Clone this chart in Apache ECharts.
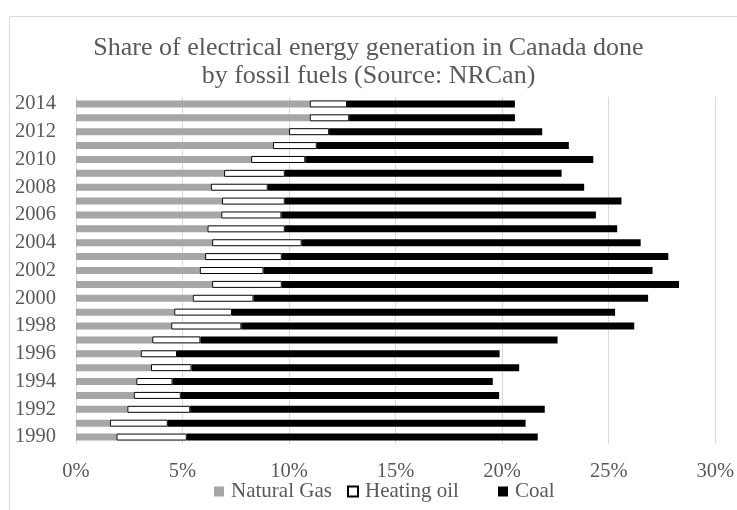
<!DOCTYPE html>
<html>
<head>
<meta charset="utf-8">
<script src="https://cdn.jsdelivr.net/npm/echarts@6/dist/echarts.min.js"></script>
<style>
html,body{margin:0;padding:0;background:#fff;}
#chart{width:737px;height:510px;}
</style>
</head>
<body>
<div id="chart"></div>
<script>
const years = ['1990','1991','1992','1993','1994','1995','1996','1997','1998','1999','2000','2001','2002','2003','2004','2005','2006','2007','2008','2009','2010','2011','2012','2013','2014'];
const naturalGas = [1.9,1.59,2.41,2.71,2.83,3.52,3.04,3.58,4.47,4.61,5.48,6.39,5.81,6.06,6.39,6.17,6.82,6.85,6.33,6.95,8.22,9.24,10.0,10.97,10.97];
const heatingOil = [3.3,2.72,2.95,2.21,1.7,1.9,1.7,2.26,3.29,2.71,2.85,3.27,2.99,3.6,4.2,3.63,2.82,2.95,2.67,2.85,2.54,2.06,1.88,1.85,1.75];
const coal = [16.47,16.79,16.64,14.94,15.03,15.38,15.14,16.76,18.44,17.98,18.52,18.64,18.26,18.14,15.91,15.6,14.76,15.8,14.85,12.99,13.52,11.83,10.0,7.78,7.88];
const seriesNames = ['Natural Gas', 'Heating oil', 'Coal'];
const titleText = 'Share of electrical energy generation in Canada done\nby fossil fuels (Source: NRCan)';

const font = 'Liberation Serif';
const textColor = '#595959';
const legendLefts = [214, 347, 498];
const chart = echarts.init(document.getElementById('chart'));
chart.setOption({
  animation: false,
  backgroundColor: '#fff',
  graphic: [{
    type: 'rect', left: 7, top: 14, shape: {width: 740, height: 510},
    style: {fill: 'none', stroke: '#d9d9d9', lineWidth: 1}, z: -1
  }],
  title: {
    text: titleText, left: 'center', top: 29,
    textStyle: {fontFamily: font, fontSize: 26, fontWeight: 'normal', color: textColor, lineHeight: 28}
  },
  legend: seriesNames.map((n, i) => ({
    left: legendLefts[i], top: 481, itemWidth: 10, itemHeight: 10, icon: 'rect', padding: 0,
    textStyle: {fontFamily: font, fontSize: 21, color: textColor, padding: [0,0,0,2]},
    data: [n]
  })),
  grid: {left: 76, right: 19, top: 97, bottom: 66, containLabel: false},
  xAxis: {
    type: 'value', min: 0, max: 30, interval: 5,
    axisLabel: {formatter: '{value}%', fontFamily: font, fontSize: 20.5, color: textColor, margin: 17},
    axisLine: {show: false}, axisTick: {show: false},
    splitLine: {lineStyle: {color: '#d9d9d9', width: 1}}
  },
  yAxis: {
    type: 'category', data: years,
    axisLabel: {interval: 1, fontFamily: font, fontSize: 20.5, color: textColor, margin: 20},
    axisLine: {show: true, lineStyle: {color: '#d9d9d9'}},
    axisTick: {show: false}
  },
  series: [
    {name: seriesNames[0], type: 'bar', stack: 'total', data: naturalGas, barWidth: 7,
     itemStyle: {color: '#a6a6a6'}},
    {name: seriesNames[1], type: 'bar', stack: 'total', data: heatingOil, barWidth: 7,
     itemStyle: {color: '#ffffff', borderColor: '#000000', borderWidth: 1}},
    {name: seriesNames[2], type: 'bar', stack: 'total', data: coal, barWidth: 7,
     itemStyle: {color: '#000000'}}
  ]
});
</script>
</body>
</html>
